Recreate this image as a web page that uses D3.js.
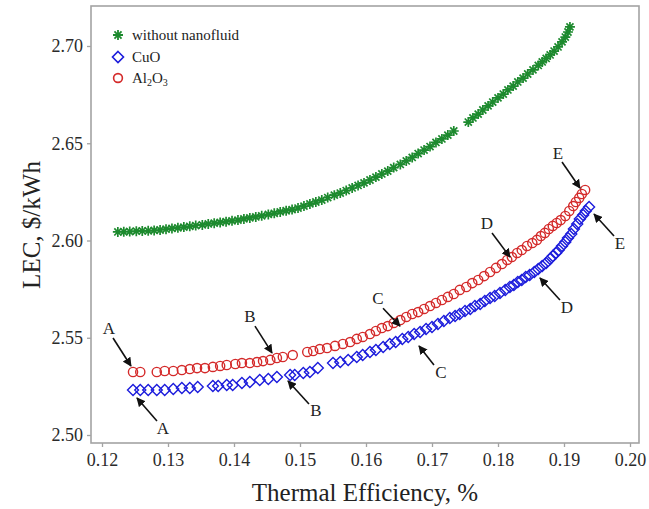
<!DOCTYPE html>
<html>
<head>
<meta charset="utf-8">
<script src="https://cdn.jsdelivr.net/npm/d3@7"></script>
<style>
  html, body { margin: 0; padding: 0; background: #fff; }
  svg { display: block; }
  svg text { font-family: "Liberation Serif", "Times New Roman", Times, serif; }
</style>
</head>
<body>
<svg id="chart" width="649" height="509"></svg>
<script>
// ---------- DATA ----------
const xTicks = [0.12, 0.13, 0.14, 0.15, 0.16, 0.17, 0.18, 0.19, 0.20];
const yTicks = [2.50, 2.55, 2.60, 2.65, 2.70];

const seriesNames = ["without nanofluid", "CuO", "Al2O3"];

// without nanofluid
const baseEff = [0.1224,0.1233,0.1242,0.1252,0.1261,0.1270,0.1279,0.1288,0.1297,0.1306,0.1315,0.1324,0.1333,0.1342,0.1352,0.1361,0.1370,0.1379,0.1388,0.1397,0.1406,0.1415,0.1424,0.1433,0.1442,0.1452,0.1461,0.1470,0.1479,0.1488,0.1497,0.1506,0.1515,0.1524,0.1533,0.1542,0.1552,0.1561,0.1570,0.1579,0.1588,0.1597,0.1606,0.1615,0.1624,0.1633,0.1642,0.1652,0.1661,0.1670,0.1679,0.1688,0.1697,0.1706,0.1715,0.1724,0.1733,0.1755,0.1762,0.1770,0.1777,0.1785,0.1792,0.1800,0.1808,0.1815,0.1823,0.1830,0.1838,0.1845,0.1853,0.1861,0.1867,0.1873,0.1879,0.1885,0.1891,0.1897,0.1902,0.1906,0.1909];
const baseLEC = [2.6044,2.6045,2.6046,2.6048,2.6049,2.6050,2.6052,2.6054,2.6058,2.6062,2.6065,2.6069,2.6073,2.6077,2.6080,2.6085,2.6089,2.6093,2.6097,2.6101,2.6105,2.6111,2.6116,2.6121,2.6127,2.6134,2.6140,2.6147,2.6153,2.6159,2.6167,2.6177,2.6188,2.6198,2.6208,2.6221,2.6233,2.6244,2.6257,2.6270,2.6283,2.6296,2.6311,2.6326,2.6342,2.6357,2.6375,2.6391,2.6409,2.6427,2.6447,2.6465,2.6483,2.6504,2.6522,2.6542,2.6563,2.6609,2.6630,2.6650,2.6671,2.6692,2.6712,2.6733,2.6753,2.6774,2.6794,2.6815,2.6835,2.6856,2.6877,2.6900,2.6918,2.6936,2.6954,2.6974,2.6995,2.7021,2.7046,2.7072,2.7098];

// CuO
const cuoEff = [0.1247,0.1258,0.1270,0.1283,0.1295,0.1308,0.1321,0.1333,0.1345,0.1368,0.1376,0.1389,0.1398,0.1412,0.1424,0.1439,0.1452,0.1465,0.1485,0.1492,0.1505,0.1515,0.1527,0.1550,0.1561,0.1573,0.1586,0.1595,0.1606,0.1615,0.1626,0.1636,0.1645,0.1655,0.1664,0.1673,0.1682,0.1691,0.1700,0.1709,0.1718,0.1727,0.1735,0.1742,0.1750,0.1758,0.1765,0.1773,0.1780,0.1788,0.1795,0.1803,0.1811,0.1818,0.1824,0.1830,0.1836,0.1842,0.1848,0.1855,0.1861,0.1867,0.1873,0.1879,0.1883,0.1888,0.1892,0.1897,0.1902,0.1906,0.1911,0.1915,0.1920,0.1924,0.1929,0.1933,0.1938];
const cuoLEC = [2.5231,2.5231,2.5231,2.5231,2.5231,2.5237,2.5242,2.5242,2.5247,2.5252,2.5252,2.5257,2.5257,2.5267,2.5272,2.5283,2.5288,2.5298,2.5308,2.5308,2.5319,2.5324,2.5344,2.5370,2.5375,2.5386,2.5401,2.5411,2.5427,2.5437,2.5452,2.5468,2.5478,2.5494,2.5504,2.5519,2.5530,2.5545,2.5555,2.5571,2.5586,2.5602,2.5612,2.5622,2.5638,2.5648,2.5663,2.5674,2.5689,2.5704,2.5715,2.5730,2.5746,2.5761,2.5771,2.5787,2.5797,2.5812,2.5823,2.5838,2.5853,2.5869,2.5884,2.5905,2.5920,2.5936,2.5951,2.5972,2.5992,2.6013,2.6033,2.6059,2.6085,2.6111,2.6131,2.6152,2.6172];

// Al2O3
const alEff = [0.1247,0.1258,0.1283,0.1295,0.1308,0.1321,0.1333,0.1344,0.1356,0.1368,0.1379,0.1389,0.1402,0.1412,0.1424,0.1435,0.1444,0.1455,0.1465,0.1474,0.1489,0.1511,0.1520,0.1530,0.1541,0.1553,0.1565,0.1576,0.1586,0.1595,0.1606,0.1615,0.1624,0.1633,0.1642,0.1652,0.1661,0.1670,0.1679,0.1688,0.1697,0.1706,0.1715,0.1724,0.1733,0.1742,0.1752,0.1761,0.1770,0.1779,0.1788,0.1797,0.1806,0.1814,0.1821,0.1829,0.1836,0.1844,0.1852,0.1859,0.1865,0.1871,0.1877,0.1883,0.1889,0.1895,0.1902,0.1908,0.1914,0.1918,0.1923,0.1927,0.1932];
const alLEC = [2.5324,2.5324,2.5324,2.5329,2.5329,2.5334,2.5339,2.5344,2.5344,2.5350,2.5355,2.5360,2.5365,2.5370,2.5370,2.5375,2.5380,2.5386,2.5396,2.5401,2.5411,2.5427,2.5432,2.5442,2.5447,2.5458,2.5468,2.5478,2.5494,2.5504,2.5519,2.5535,2.5550,2.5560,2.5576,2.5591,2.5607,2.5622,2.5632,2.5648,2.5663,2.5679,2.5694,2.5710,2.5725,2.5746,2.5761,2.5781,2.5797,2.5817,2.5838,2.5859,2.5879,2.5900,2.5915,2.5936,2.5951,2.5972,2.5987,2.6003,2.6023,2.6039,2.6059,2.6075,2.6090,2.6105,2.6126,2.6152,2.6177,2.6198,2.6219,2.6239,2.6260];

// Point labels: [label, labelEff, labelLEC, fromEff, fromLEC, toEff, toLEC]
const annotations = [
  ["A", 0.12106, 2.5520, 0.12167, 2.5499, 0.12439, 2.5355],
  ["A", 0.12924, 2.5006, 0.12833, 2.5072, 0.12530, 2.5190],
  ["B", 0.14242, 2.5582, 0.14318, 2.5560, 0.14576, 2.5422],
  ["B", 0.15242, 2.5098, 0.15136, 2.5159, 0.14818, 2.5278],
  ["C", 0.16182, 2.5675, 0.16258, 2.5652, 0.16515, 2.5560],
  ["C", 0.17136, 2.5294, 0.17030, 2.5360, 0.16803, 2.5458],
  ["D", 0.17833, 2.6060, 0.17909, 2.6039, 0.18182, 2.5915],
  ["D", 0.19045, 2.5628, 0.18939, 2.5694, 0.18636, 2.5807],
  ["E", 0.18909, 2.6420, 0.18970, 2.6404, 0.19242, 2.6270],
  ["E", 0.19848, 2.5957, 0.19758, 2.6023, 0.19455, 2.6136]
];

// ---------- DRAW ----------
const svg = d3.select("#chart");
const FONT = "\"Liberation Serif\", \"Times New Roman\", Times, serif";
const GREEN = "#1d8a2e", BLUE = "#1c1cdc", RED = "#d42a2a", FRAME = "#a3a3a3";

const frame = {left: 91, right: 639, top: 6, bottom: 443};
const x = d3.scaleLinear().domain([0.12, 0.20]).range([102, 630]);
const y = d3.scaleLinear().domain([2.50, 2.70]).range([435, 46]);

svg.append("rect").attr("width", 649).attr("height", 509).attr("fill", "#fff");

// axes
const xAxis = svg.append("g").attr("transform", `translate(0,${frame.bottom})`)
  .call(d3.axisBottom(x).tickValues(xTicks).tickFormat(d3.format(".2f")).tickSize(4).tickPadding(6));
const yAxis = svg.append("g").attr("transform", `translate(${frame.left},0)`)
  .call(d3.axisLeft(y).tickValues(yTicks).tickFormat(d3.format(".2f")).tickSize(4).tickPadding(4));
[xAxis, yAxis].forEach(g => {
  g.attr("font-family", FONT).attr("font-size", 18);
  g.select(".domain").remove();
  g.selectAll(".tick line").attr("stroke", FRAME).attr("stroke-width", 1.3);
  g.selectAll(".tick text").attr("fill", "#2a2a2a").attr("font-family", FONT).attr("font-size", 18);
});

// frame
svg.append("rect")
  .attr("x", frame.left).attr("y", frame.top)
  .attr("width", frame.right - frame.left).attr("height", frame.bottom - frame.top)
  .attr("fill", "none").attr("stroke", FRAME).attr("stroke-width", 1.6);

// marker paths
function starPath(r) {
  const d = r * Math.SQRT1_2;
  return `M${-r},0L${r},0M0,${-r}L0,${r}M${-d},${-d}L${d},${d}M${-d},${d}L${d},${-d}`;
}
function diamondPath(r) {
  return `M0,${-r}L${r},0L0,${r}L${-r},0Z`;
}

const base = baseEff.map((e, i) => [e, baseLEC[i]]);
const cuo = cuoEff.map((e, i) => [e, cuoLEC[i]]);
const al = alEff.map((e, i) => [e, alLEC[i]]);

svg.append("g").selectAll("path").data(base).join("path")
  .attr("transform", d => `translate(${x(d[0])},${y(d[1])})`)
  .attr("d", starPath(5)).attr("fill", "none").attr("stroke", GREEN).attr("stroke-width", 1.7);

svg.append("g").selectAll("path").data(cuo).join("path")
  .attr("transform", d => `translate(${x(d[0])},${y(d[1])})`)
  .attr("d", diamondPath(5.5)).attr("fill", "none").attr("stroke", BLUE).attr("stroke-width", 1.4);

svg.append("g").selectAll("circle").data(al).join("circle")
  .attr("cx", d => x(d[0])).attr("cy", d => y(d[1])).attr("r", 4.6)
  .attr("fill", "none").attr("stroke", RED).attr("stroke-width", 1.4);

// arrows
const defs = svg.append("defs");
defs.append("marker").attr("id", "arrowhead")
  .attr("viewBox", "0 0 10 10").attr("refX", 9).attr("refY", 5)
  .attr("markerWidth", 9).attr("markerHeight", 9).attr("markerUnits", "userSpaceOnUse")
  .attr("orient", "auto")
  .append("path").attr("d", "M0,0L10,5L0,10Z").attr("fill", "#111");

const ann = svg.append("g");
annotations.forEach(a => {
  ann.append("line")
    .attr("x1", x(a[3])).attr("y1", y(a[4]))
    .attr("x2", x(a[5])).attr("y2", y(a[6]))
    .attr("stroke", "#111").attr("stroke-width", 1.6)
    .attr("marker-end", "url(#arrowhead)");
  ann.append("text")
    .attr("x", x(a[1])).attr("y", y(a[2]))
    .attr("text-anchor", "middle")
    .attr("fill", "#222").attr("font-family", FONT).attr("font-size", 17)
    .text(a[0]);
});

// legend
const legend = svg.append("g");
const legendRows = [
  {name: seriesNames[0], y: 35, kind: "star"},
  {name: seriesNames[1], y: 57, kind: "diamond"},
  {name: seriesNames[2], y: 78, kind: "circle"}
];
legendRows.forEach(r => {
  const mx = 118;
  if (r.kind === "star") {
    legend.append("path").attr("transform", `translate(${mx},${r.y})`).attr("d", starPath(5))
      .attr("fill", "none").attr("stroke", GREEN).attr("stroke-width", 1.8);
  } else if (r.kind === "diamond") {
    legend.append("path").attr("transform", `translate(${mx},${r.y})`).attr("d", diamondPath(5.5))
      .attr("fill", "none").attr("stroke", BLUE).attr("stroke-width", 1.6);
  } else {
    legend.append("circle").attr("cx", mx).attr("cy", r.y).attr("r", 4.4)
      .attr("fill", "none").attr("stroke", RED).attr("stroke-width", 1.6);
  }
  const t = legend.append("text").attr("x", 132).attr("y", r.y + 5)
    .attr("fill", "#222").attr("font-family", FONT).attr("font-size", 15);
  if (r.name === "Al2O3") {
    t.append("tspan").text("Al");
    t.append("tspan").attr("dy", 3).attr("font-size", 10).text("2");
    t.append("tspan").attr("dy", -3).text("O");
    t.append("tspan").attr("dy", 3).attr("font-size", 10).text("3");
  } else {
    t.text(r.name);
  }
});

// axis titles
svg.append("text").attr("x", 365).attr("y", 501).attr("text-anchor", "middle")
  .attr("fill", "#222").attr("font-family", FONT).attr("font-size", 25)
  .text("Thermal Efficiency, %");
svg.append("text").attr("transform", "translate(40,225) rotate(-90)").attr("text-anchor", "middle")
  .attr("fill", "#222").attr("font-family", FONT).attr("font-size", 25)
  .text("LEC, $/kWh");
</script>
</body>
</html>
